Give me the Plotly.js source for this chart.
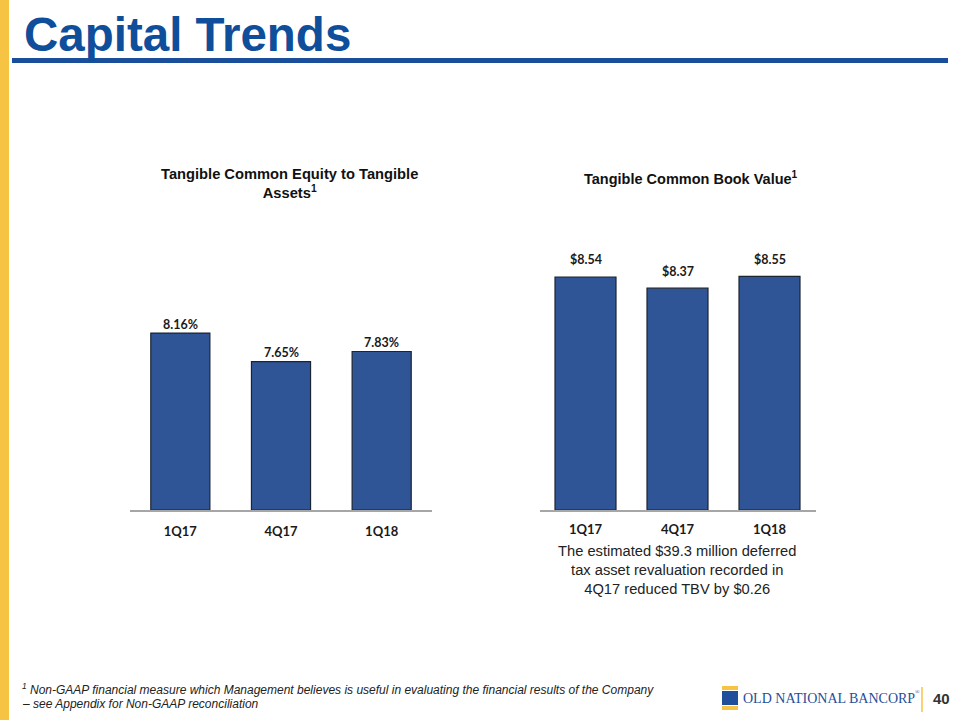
<!DOCTYPE html>
<html>
<head>
<meta charset="utf-8">
<script src="https://cdn.plot.ly/plotly-3.0.1.min.js"></script>
<style>html,body{margin:0;padding:0;background:#fff;}#chart{width:960px;height:720px;}</style>
</head>
<body>
<div id="chart"></div>
<script>
// Data
var categories = ["1Q17", "4Q17", "1Q18"];
var tceValues = [8.16, 7.65, 7.83];
var tceLabels = ["8.16%", "7.65%", "7.83%"];
var tbvValues = [8.54, 8.37, 8.55];
var tbvLabels = ["$8.54", "$8.37", "$8.55"];
var axisFloor = 5;

var W = 960, H = 720;
function px(x){ return x / W; }
function py(y){ return 1 - y / H; }

var barColor = "#2F5597";
var barLine = "#1B2433";
var labelFont = {family: "Lato, 'Open Sans', sans-serif", size: 12.5, color: "#1a1a1a", weight: 700};
var tickFont = {family: "Lato, 'Open Sans', sans-serif", size: 13, color: "#1a1a1a", weight: 700};

var traces = [
  {
    type: "bar", x: categories, y: tceValues.map(function(v){ return v - axisFloor; }),
    base: axisFloor, xaxis: "x", yaxis: "y", width: 0.587,
    marker: {color: barColor, line: {color: barLine, width: 1.2}},
    hoverinfo: "none"
  },
  {
    type: "bar", x: categories, y: tbvValues.map(function(v){ return v - axisFloor; }),
    base: axisFloor, xaxis: "x2", yaxis: "y2", width: 0.663,
    marker: {color: barColor, line: {color: barLine, width: 1.2}},
    hoverinfo: "none"
  }
];

var annotations = [
  {text: "<b>Capital Trends</b>", xref: "paper", yref: "paper", x: px(22), y: py(34),
   xanchor: "left", yanchor: "middle", showarrow: false,
   font: {family: "Liberation Sans, Arial, sans-serif", size: 47.5, color: "#0F4E9B"}},
  {text: "<b>Tangible Common Equity to Tangible<br>Assets<sup>1</sup></b>", xref: "paper", yref: "paper",
   x: px(289), y: py(183), xanchor: "center", yanchor: "middle", showarrow: false,
   font: {family: "Liberation Sans, Arial, sans-serif", size: 14.7, color: "#111111"}},
  {text: "<b>Tangible Common Book Value<sup>1</sup></b>", xref: "paper", yref: "paper",
   x: px(691), y: py(178), xanchor: "center", yanchor: "middle", showarrow: false,
   font: {family: "Liberation Sans, Arial, sans-serif", size: 14.5, color: "#111111"}},
  {text: "The estimated $39.3 million deferred<br>tax asset revaluation recorded in<br>4Q17 reduced TBV by $0.26",
   xref: "paper", yref: "paper", x: px(677), y: py(570), xanchor: "center", yanchor: "middle",
   showarrow: false, align: "center",
   font: {family: "Liberation Sans, Arial, sans-serif", size: 14.7, color: "#222222"}},
  {text: "<i><sup>1</sup> Non-GAAP financial measure which Management believes is useful in evaluating the financial results of the Company</i>",
   xref: "paper", yref: "paper", x: px(20), y: py(689), xanchor: "left", yanchor: "middle",
   showarrow: false, align: "left",
   font: {family: "Liberation Sans, Arial, sans-serif", size: 12, color: "#222222"}},
  {text: "<i>– see Appendix for Non-GAAP reconciliation</i>",
   xref: "paper", yref: "paper", x: px(20), y: py(704), xanchor: "left", yanchor: "middle",
   showarrow: false, align: "left",
   font: {family: "Liberation Sans, Arial, sans-serif", size: 12, color: "#222222"}},
  {text: "OLD NATIONAL BANCORP", xref: "paper", yref: "paper",
   x: px(741), y: py(698), xanchor: "left", yanchor: "middle", showarrow: false,
   font: {family: "Liberation Serif, 'Times New Roman', serif", size: 14, color: "#1F4E9A"}},
  {text: "®", xref: "paper", yref: "paper",
   x: px(913), y: py(692), xanchor: "left", yanchor: "middle", showarrow: false,
   font: {family: "Liberation Serif, 'Times New Roman', serif", size: 6, color: "#1F4E9A"}},
  {text: "<b>40</b>", xref: "paper", yref: "paper", x: px(941), y: py(698), xanchor: "center", yanchor: "middle",
   showarrow: false, font: {family: "Liberation Sans, Arial, sans-serif", size: 15, color: "#333333"}}
];

// value labels above bars, placed through the axes' scales
categories.forEach(function(c, i){
  annotations.push({text: "<b>" + tceLabels[i] + "</b>", xref: "x", yref: "y", x: c, y: tceValues[i],
    xanchor: "center", yanchor: "middle", yshift: 9, showarrow: false, font: labelFont});
  annotations.push({text: "<b>" + tbvLabels[i] + "</b>", xref: "x2", yref: "y2", x: c, y: tbvValues[i],
    xanchor: "center", yanchor: "middle", yshift: 17, showarrow: false, font: labelFont});
});

var layout = {
  width: W, height: H,
  margin: {l: 0, r: 0, t: 0, b: 0},
  paper_bgcolor: "#ffffff", plot_bgcolor: "rgba(0,0,0,0)",
  showlegend: false,
  xaxis: {
    domain: [px(130), px(432)], anchor: "y", type: "category",
    showline: true, linecolor: "#A6A6A6", linewidth: 1.5,
    showgrid: false, zeroline: false,
    ticks: "outside", ticklen: 9, tickcolor: "rgba(0,0,0,0)",
    tickfont: tickFont, fixedrange: true
  },
  yaxis: {
    domain: [py(510), py(230)], anchor: "x", range: [axisFloor, 10],
    visible: false, fixedrange: true
  },
  xaxis2: {
    domain: [px(539.5), px(815.5)], anchor: "y2", type: "category",
    showline: true, linecolor: "#A6A6A6", linewidth: 1.5,
    showgrid: false, zeroline: false,
    ticks: "outside", ticklen: 7, tickcolor: "rgba(0,0,0,0)",
    tickfont: tickFont, fixedrange: true
  },
  yaxis2: {
    domain: [py(510), py(246.7)], anchor: "x2", range: [axisFloor, 9],
    visible: false, fixedrange: true
  },
  shapes: [
    {type: "rect", xref: "paper", yref: "paper", x0: 0, x1: px(9), y0: 0, y1: 1,
     fillcolor: "#F7C342", line: {width: 0}, layer: "below"},
    {type: "rect", xref: "paper", yref: "paper", x0: px(12), x1: px(948), y0: py(63), y1: py(58),
     fillcolor: "#1A4E9A", line: {width: 0}},
    {type: "rect", xref: "paper", yref: "paper", x0: px(722), x1: px(738), y0: py(690), y1: py(686),
     fillcolor: "#F7C342", line: {width: 0}},
    {type: "rect", xref: "paper", yref: "paper", x0: px(722), x1: px(738), y0: py(705), y1: py(691),
     fillcolor: "#1F4E9A", line: {width: 0}},
    {type: "rect", xref: "paper", yref: "paper", x0: px(722), x1: px(738), y0: py(710), y1: py(706),
     fillcolor: "#F7C342", line: {width: 0}},
    {type: "line", xref: "paper", yref: "paper", x0: px(922), x1: px(922), y0: py(712), y1: py(687),
     line: {color: "#F7C342", width: 1.5}}
  ],
  annotations: annotations
};

Plotly.newPlot("chart", traces, layout, {displayModeBar: false, staticPlot: true});
</script>
</body>
</html>
